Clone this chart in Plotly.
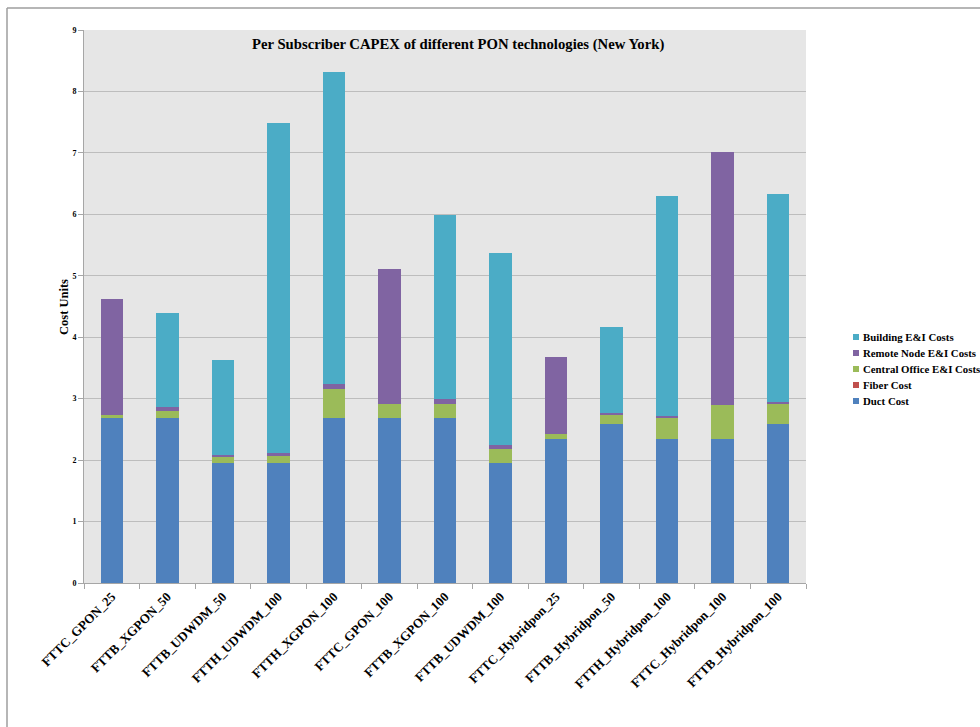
import plotly.graph_objects as go

# Technology scenarios along the x axis
categories = [
    "FTTC_GPON_25", "FTTB_XGPON_50", "FTTB_UDWDM_50", "FTTH_UDWDM_100",
    "FTTH_XGPON_100", "FTTC_GPON_100", "FTTB_XGPON_100", "FTTB_UDWDM_100",
    "FTTC_Hybridpon_25", "FTTB_Hybridpon_50", "FTTH_Hybridpon_100",
    "FTTC_Hybridpon_100", "FTTB_Hybridpon_100",
]

# Per-subscriber cost components (cost units)
duct_cost = [2.69, 2.69, 1.96, 1.96, 2.69, 2.69, 2.69, 1.96, 2.35, 2.58, 2.35, 2.35, 2.58]
fiber_cost = [0.0, 0.0, 0.0, 0.0, 0.0, 0.0, 0.0, 0.0, 0.0, 0.0, 0.0, 0.0, 0.0]
central_office_cost = [0.05, 0.11, 0.09, 0.11, 0.46, 0.23, 0.23, 0.22, 0.08, 0.16, 0.33, 0.55, 0.33]
remote_node_cost = [1.88, 0.07, 0.04, 0.05, 0.09, 2.19, 0.08, 0.07, 1.25, 0.03, 0.04, 4.12, 0.04]
building_cost = [0.0, 1.53, 1.54, 5.36, 5.08, 0.0, 2.99, 3.12, 0.0, 1.40, 3.58, 0.0, 3.38]

y_ticks = [0, 1, 2, 3, 4, 5, 6, 7, 8, 9]

series = [
    ("Duct Cost", duct_cost, "#4F81BD"),
    ("Fiber Cost", fiber_cost, "#C0504D"),
    ("Central Office E&I Costs", central_office_cost, "#9BBB59"),
    ("Remote Node E&I Costs", remote_node_cost, "#8064A2"),
    ("Building E&I Costs", building_cost, "#4BACC6"),
]

FONT = "Liberation Serif"

W, H = 980, 727
L, R, T, B = 84, 174, 30, 144
pw, ph = W - L - R, H - T - B


def px_x(x):
    """Pixel column -> paper x."""
    return (x - L) / pw


def px_y(y):
    """Pixel row -> paper y."""
    return 1 - (y - T) / ph


fig = go.Figure()
for name, vals, color in series:
    fig.add_trace(go.Bar(
        x=categories, y=vals, name=name,
        marker=dict(color=color, line=dict(width=0)),
        showlegend=False,
    ))

# Compact legend (top entry = last stacked series), Excel-style small squares
annotations = []
shapes = []
for i, (name, _, color) in enumerate(reversed(series)):
    row = 337 + 16 * i
    shapes.append(dict(
        type="rect", xref="paper", yref="paper",
        x0=px_x(853), x1=px_x(859), y0=px_y(row + 3), y1=px_y(row - 3),
        fillcolor=color, line=dict(width=0),
    ))
    annotations.append(dict(
        text="<b>" + name.replace("&", "&amp;") + "</b>",
        xref="paper", yref="paper", x=px_x(861), y=px_y(row),
        xanchor="left", yanchor="middle", showarrow=False,
        font=dict(family=FONT, size=10.8, color="black"),
    ))

annotations.append(dict(
    text="<b>Per Subscriber CAPEX of different PON technologies (New York)</b>",
    xref="paper", yref="paper", x=px_x(458), y=px_y(44),
    xanchor="center", yanchor="middle", showarrow=False,
    font=dict(family=FONT, size=14.7, color="black"),
))
annotations.append(dict(
    text="<b>Cost Units</b>",
    xref="paper", yref="paper", x=px_x(64), y=px_y(307),
    xanchor="center", yanchor="middle", showarrow=False, textangle=-90,
    font=dict(family=FONT, size=12.5, color="black"),
))

# outer chart frame (top and left edges)
shapes += [
    dict(type="line", xref="paper", yref="paper",
         x0=px_x(7), x1=px_x(W + 20), y0=px_y(8), y1=px_y(8),
         line=dict(color="#9E9E9E", width=1.5)),
    dict(type="line", xref="paper", yref="paper",
         x0=px_x(7), x1=px_x(7), y0=px_y(8), y1=px_y(H + 20),
         line=dict(color="#9E9E9E", width=1.5)),
]

fig.update_layout(
    width=W, height=H,
    margin=dict(l=L, r=R, t=T, b=B, autoexpand=False),
    barmode="stack",
    bargap=0.595,
    paper_bgcolor="white",
    plot_bgcolor="#E6E6E6",
    font=dict(family=FONT, color="black"),
    showlegend=False,
    xaxis=dict(
        tickangle=-45,
        tickfont=dict(family=FONT, size=13, color="black", weight="bold"),
        showline=True, linecolor="#A6A6A6", linewidth=1,
        ticks="outside", ticklen=5, tickcolor="#A6A6A6",
        tickson="boundaries",
        showgrid=False,
    ),
    yaxis=dict(
        range=[0, 9],
        tickvals=y_ticks,
        ticktext=[str(v) for v in y_ticks],
        tickfont=dict(family=FONT, size=8, color="black", weight="bold"),
        showline=True, linecolor="#A6A6A6", linewidth=1,
        ticks="outside", ticklen=5, tickcolor="#A6A6A6",
        showgrid=True, gridcolor="#BDBDBD", gridwidth=1,
        zeroline=False,
    ),
    annotations=annotations,
    shapes=shapes,
)

fig.write_html("out.html")
